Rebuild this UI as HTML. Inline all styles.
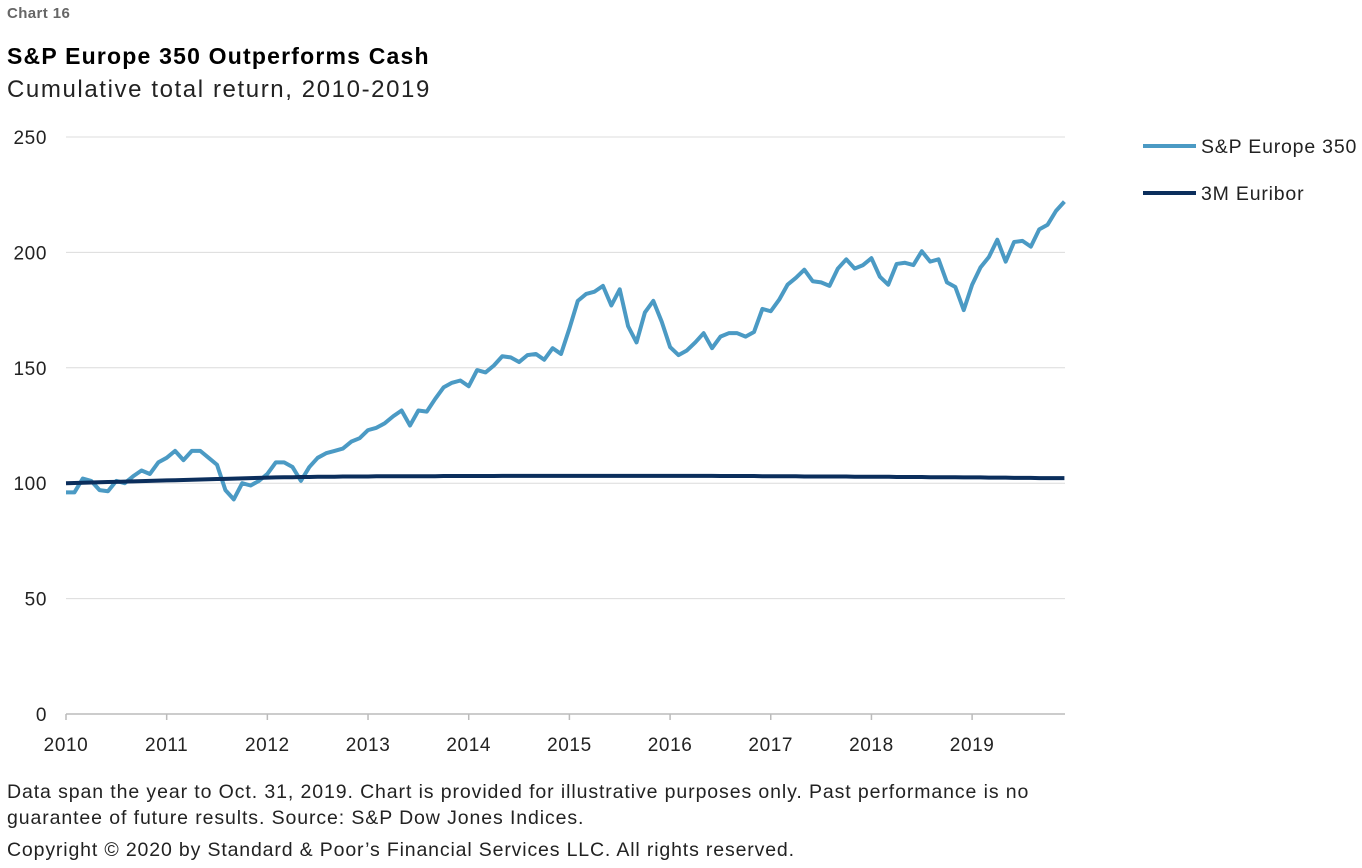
<!DOCTYPE html>
<html><head><meta charset="utf-8"><style>
body{margin:0;width:1362px;height:868px;background:#fff;font-family:"Liberation Sans",sans-serif;overflow:hidden;position:relative}
.t{position:absolute;white-space:nowrap;color:#000}
</style></head><body>
<div class="t" style="left:7px;top:5px;font-size:15px;font-weight:bold;color:#666;letter-spacing:0.4px">Chart 16</div>
<div class="t" style="left:7px;top:43px;font-size:23px;font-weight:bold;letter-spacing:1.2px">S&amp;P Europe 350 Outperforms Cash</div>
<div class="t" style="left:7px;top:76px;font-size:24px;color:#222;letter-spacing:1.6px">Cumulative total return, 2010-2019</div>
<svg id="c" width="1362" height="868" style="position:absolute;left:0;top:0"></svg>
<div class="t" style="left:7px;top:779px;font-size:19.5px;line-height:26px;color:#222;letter-spacing:0.9px">Data span the year to Oct. 31, 2019. Chart is provided for illustrative purposes only. Past performance is no<br>guarantee of future results. Source: S&amp;P Dow Jones Indices.</div>
<div class="t" style="left:7px;top:839px;font-size:19.5px;color:#222;letter-spacing:0.85px">Copyright © 2020 by Standard &amp; Poor’s Financial Services LLC. All rights reserved.</div>
<script>
const yTicks=[0,50,100,150,200,250];
const years=[2010,2011,2012,2013,2014,2015,2016,2017,2018,2019];
const seriesNames=["S&P Europe 350","3M Euribor"];
const europe350=[96,96,102,101,97,96.5,101,100,103,105.5,104,109,
111,114,110,114,114,111,108,97,93,100,99,101,
104,109,109,107,101,107,111,113,114,115,118,119.5,
123,124,126,129,131.5,125,131.5,131,136.5,141.5,143.5,144.5,
142,149,148,151,155,154.5,152.5,155.5,156,153.5,158.5,156,
167,179,182,183,185.5,177,184,168,161,174,179,170,
159,155.5,157.5,161,165,158.5,163.5,165,165,163.5,165.5,175.5,
174.5,179.5,186,189,192.5,187.5,187,185.5,193,197,193,194.5,
197.5,189.5,186,195,195.5,194.5,200.5,196,197,187,185,175,
186,193.5,198,205.5,196,204.5,205,202.5,210,212,218,222];
const euribor=[100,100.1,100.2,100.3,100.4,100.5,100.6,100.7,100.8,100.9,101,101.1,
101.2,101.3,101.4,101.5,101.6,101.7,101.8,101.9,102,102.1,102.2,102.3,
102.4,102.5,102.6,102.6,102.7,102.7,102.8,102.8,102.8,102.9,102.9,102.9,
102.9,103,103,103,103,103,103,103,103,103.1,103.1,103.1,
103.1,103.1,103.1,103.1,103.2,103.2,103.2,103.2,103.2,103.2,103.2,103.2,
103.2,103.2,103.2,103.2,103.2,103.2,103.2,103.2,103.2,103.2,103.2,103.2,
103.2,103.2,103.2,103.2,103.2,103.2,103.1,103.1,103.1,103.1,103.1,103,
103,103,103,103,102.9,102.9,102.9,102.9,102.9,102.9,102.8,102.8,
102.8,102.8,102.8,102.7,102.7,102.7,102.7,102.6,102.6,102.6,102.6,102.5,
102.5,102.5,102.4,102.4,102.4,102.3,102.3,102.3,102.2,102.2,102.2,102.2];
const svg=document.getElementById('c');const NS='http://www.w3.org/2000/svg';
const X0=66,PXM=8.39,Y0=714,PXU=577/250;
const xs=i=>X0+i*PXM, ys=v=>Y0-v*PXU;
function mk(t,a,txt){const e=document.createElementNS(NS,t);for(const k in a)e.setAttribute(k,a[k]);if(txt!=null)e.textContent=txt;svg.appendChild(e);return e;}
yTicks.forEach(v=>{
 if(v>0){const g=mk('line',{x1:X0,x2:1065,y1:ys(v),y2:ys(v),stroke:'#dcdcdc','stroke-width':1});
 
 }
 const t=mk('text',{x:47,y:ys(v)+7,'text-anchor':'end','font-size':19,fill:'#222','font-family':'Liberation Sans','letter-spacing':'0.6'},v);
 
 
});
const ax=mk('line',{x1:X0,x2:1065,y1:Y0,y2:Y0,stroke:'#bbb','stroke-width':1.5});


years.forEach((yr,i)=>{
 const x=xs(i*12);
 const tk=mk('line',{x1:x,x2:x,y1:Y0,y2:Y0+6,stroke:'#bbb','stroke-width':1.5});
 
 
 const t=mk('text',{x:x,y:751,'text-anchor':'middle','font-size':19,fill:'#222','font-family':'Liberation Sans','letter-spacing':'0.6'},yr);
 
 
});
function line(d,col,w,name){
 const p=mk('polyline',{points:d.map((v,i)=>xs(i)+','+ys(v)).join(' '),fill:'none',stroke:col,'stroke-width':w,'stroke-linejoin':'round'});
 
 
}
line(europe350,'#4b9ac4',4,'europe-350-line');
line(euribor,'#0b2e5c',4,'euribor-line');
const cols=['#4b9ac4','#0b2e5c'];
seriesNames.forEach((n,i)=>{
 const y=146+i*47;
 const l=mk('line',{x1:1143,x2:1196,y1:y,y2:y,stroke:cols[i],'stroke-width':4});
 
 
 const t=mk('text',{x:1201,y:y+7,'font-size':19.5,fill:'#222','font-family':'Liberation Sans','letter-spacing':'0.8'},n);
 
 
});
</script>
</body></html>
